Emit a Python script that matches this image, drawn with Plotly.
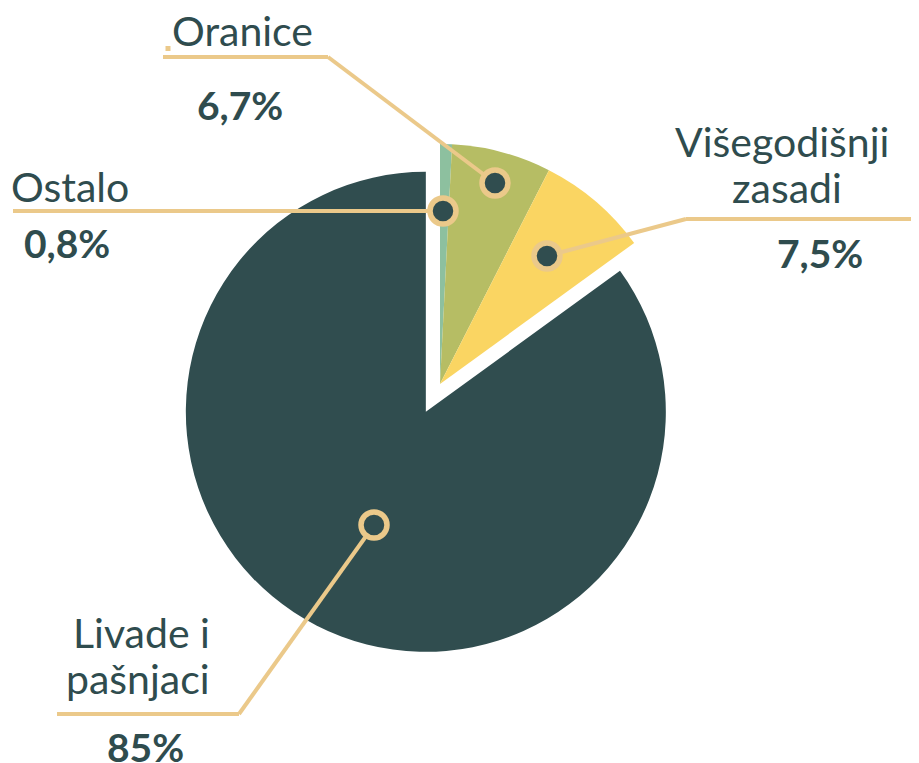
import plotly.graph_objects as go

# ---- data ----
labels = ["Ostalo", "Oranice", "Višegodišnji zasadi", "Livade i pašnjaci"]
values = [0.8, 6.7, 7.5, 85.0]
label_lines = [["Ostalo"], ["Oranice"], ["Višegodišnji", "zasadi"], ["Livade i", "pašnjaci"]]

# ---- styles ----
colors = ["#8DC09F", "#B6BD64", "#FAD562", "#304D4F"]
pulls = [0, 0, 0, 0.13]
TEXT = "#2F4C4E"
BEIGE = "#EBC98A"
DARK = "#304D4F"
FONT = "Lato"

OFF = 8  # page body margin
W, H = 919 - OFF, 763 - OFF
cx, cy, R = 440, 384, 240
half = R * (1 + max(pulls))

def px(x):
    return (x - OFF) / W

def py(y):
    return 1 - (y - OFF) / H

fig = go.Figure(go.Pie(
    labels=labels, values=values, sort=False, direction="clockwise", rotation=0,
    pull=pulls, marker=dict(colors=colors, line=dict(width=0)),
    textinfo="none", hoverinfo="label+percent", showlegend=False,
    domain=dict(x=[px(cx - half), px(cx + half)], y=[py(cy + half), py(cy + half) + 2 * half / H]),
))

def fmt(v):
    return f"{v:g}".replace(".", ",") + "%"

# leader line paths (reference pixel coords) and label layouts
leaders = [
    [(13, 211), (443, 211)],
    [(163, 57), (328, 57), (495, 183)],
    [(919, 219), (686, 219), (547, 256)],
    [(57, 714), (239, 714), (374, 525)],
]
circle_fill = [DARK, DARK, DARK, DARK]
name_pos = [
    [(70, 186)],
    [(242, 31)],
    [(782, 142), (787, 187)],
    [(141, 632), (138, 678)],
]
pct_pos = [(67, 243), (240, 105), (820, 253), (145, 747)]

shapes = []
annotations = []
for i in range(len(labels)):
    pts = leaders[i]
    for (x0, y0), (x1, y1) in zip(pts[:-1], pts[1:]):
        shapes.append(dict(type="line", xref="paper", yref="paper",
                           x0=px(x0), y0=py(y0), x1=px(x1), y1=py(y1),
                           line=dict(color=BEIGE, width=4)))
for i in range(len(labels)):
    ex, ey = leaders[i][-1]
    r = 13
    shapes.append(dict(type="circle", xref="paper", yref="paper",
                       x0=px(ex - r), x1=px(ex + r), y0=py(ey + r), y1=py(ey - r),
                       fillcolor=circle_fill[i], line=dict(color=BEIGE, width=5.5)))
# small stray mark near "Oranice"
shapes.append(dict(type="rect", xref="paper", yref="paper",
                   x0=px(165.5), x1=px(170.5), y0=py(51), y1=py(46),
                   fillcolor=BEIGE, line=dict(width=0)))

for i in range(len(labels)):
    for line_txt, (x, y) in zip(label_lines[i], name_pos[i]):
        annotations.append(dict(text=line_txt, xref="paper", yref="paper",
                                x=px(x), y=py(y), xanchor="center", yanchor="middle",
                                showarrow=False, font=dict(family=FONT, size=41, color=TEXT)))
    x, y = pct_pos[i]
    annotations.append(dict(text="<b>" + fmt(values[i]) + "</b>", xref="paper", yref="paper",
                            x=px(x), y=py(y), xanchor="center", yanchor="middle",
                            showarrow=False, font=dict(family=FONT, size=39, color=TEXT)))

fig.update_layout(
    width=W, height=H, margin=dict(l=0, r=0, t=0, b=0, pad=0),
    paper_bgcolor="white", plot_bgcolor="white",
    shapes=shapes, annotations=annotations,
)

fig.write_html("out.html")
